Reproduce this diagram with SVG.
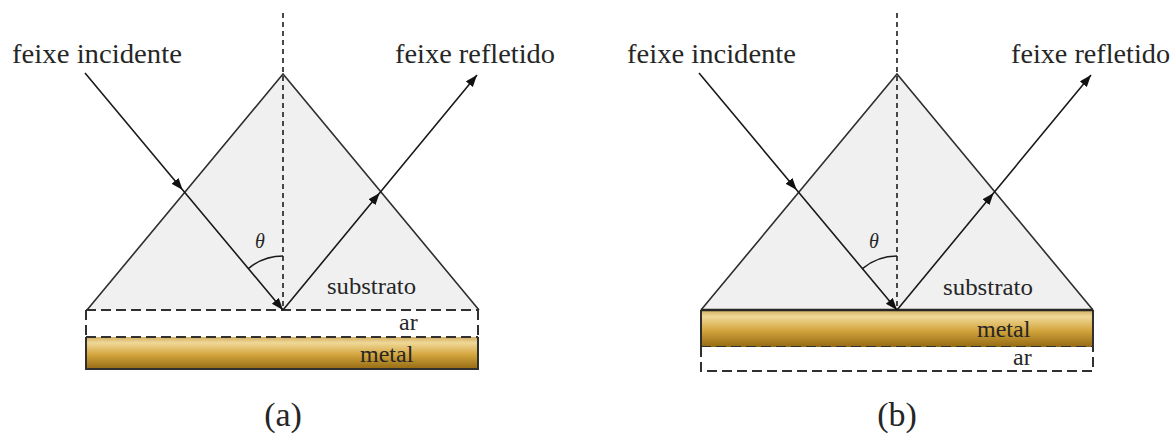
<svg xmlns="http://www.w3.org/2000/svg" width="1173" height="434" viewBox="0 0 1173 434">
  <style>
    text { font-family: "Liberation Serif", Tinos, "Noto Serif", "DejaVu Serif", "Times New Roman", Times, "Nimbus Roman", "FreeSerif", serif; fill: #262626; }
    .lbl { font-size: 28px; }
    .sm { font-size: 24px; }
    .cap { font-size: 34px; text-anchor: middle; }
    .th { font-size: 20px; font-style: italic; text-anchor: middle; }
    .prism { fill: #f0f0f0; stroke: none; }
    .edge { fill: none; stroke: #2e2e2e; stroke-width: 1.6; stroke-linejoin: miter; }
    .axis { fill: none; stroke: #2a2a2a; stroke-width: 1.7; stroke-dasharray: 5 4; }
    .dash { fill: none; stroke: #303030; stroke-width: 2; stroke-dasharray: 10 5; }
    .solid { fill: none; stroke: #303030; stroke-width: 2; }
    .thick { fill: none; stroke: #262626; stroke-width: 2.6; }
    .ray { fill: none; stroke: #1a1a1a; stroke-width: 1.6; marker-mid: url(#arrow); marker-end: url(#arrow); }
    .arc { fill: none; stroke: #1a1a1a; stroke-width: 1.5; }
  </style>
  <defs>
    <marker id="arrow" markerUnits="userSpaceOnUse" markerWidth="13" markerHeight="10" refX="12" refY="4.5" orient="auto">
      <path d="M0,0 L12,4.5 L0,9 Z" fill="#111"/>
    </marker>
    <linearGradient id="gold" x1="0" y1="0" x2="0" y2="1">
      <stop offset="0" stop-color="#d3ad5e"/>
      <stop offset="0.18" stop-color="#efd898"/>
      <stop offset="0.55" stop-color="#d4a63e"/>
      <stop offset="1" stop-color="#946a14"/>
    </linearGradient>
  </defs>

  <!-- Panel (a) -->
  <g id="prism-a">
    <polygon class="prism" points="283,74 87,310 479,310"/>
    <polyline class="edge" points="87,310 283,74 479,310"/>
  </g>
  <g id="air-a">
    <rect x="86" y="310" width="392" height="27" fill="#ffffff"/>
    <path class="dash" d="M86,310 H478 M86,310 V337 M478,310 V337"/>
    <text class="sm" x="399" y="330">ar</text>
  </g>
  <g id="metal-a">
    <rect x="86" y="337" width="392" height="32" fill="url(#gold)"/>
    <path class="solid" d="M86,337 V369 H478 V337"/>
    <path class="dash" d="M86,337 H478"/>
    <text class="sm" x="360" y="362">metal</text>
  </g>
  <g id="labels-a">
    <text class="lbl" x="12" y="63" textLength="170" lengthAdjust="spacingAndGlyphs">feixe incidente</text>
    <text class="lbl" x="395" y="63" textLength="160" lengthAdjust="spacingAndGlyphs">feixe refletido</text>
    <text class="sm" x="327" y="294" textLength="89" lengthAdjust="spacingAndGlyphs">substrato</text>
    <text class="th" x="260" y="248">θ</text>
    <text class="cap" x="283" y="426">(a)</text>
  </g>

  <!-- Panel (b) -->
  <g id="prism-b">
    <polygon class="prism" points="897,74 701,310 1093,310"/>
    <polyline class="edge" points="701,310 897,74 1093,310"/>
  </g>
  <g id="metal-b">
    <rect x="701" y="310" width="392" height="37" fill="url(#gold)"/>
    <path class="solid" d="M701,310 V347 M1093,310 V347"/>
    <path class="thick" d="M701,310 H1093"/>
    <path class="dash" d="M701,347 H1093"/>
    <text class="sm" x="977" y="337">metal</text>
  </g>
  <g id="air-b">
    <rect x="701" y="347" width="392" height="24" fill="#ffffff"/>
    <path class="dash" d="M701,347 V371 H1093 V347"/>
    <text class="sm" x="1013" y="365">ar</text>
  </g>
  <g id="labels-b">
    <text class="lbl" x="627" y="63" textLength="169" lengthAdjust="spacingAndGlyphs">feixe incidente</text>
    <text class="lbl" x="1011" y="63" textLength="159" lengthAdjust="spacingAndGlyphs">feixe refletido</text>
    <text class="sm" x="943" y="295" textLength="90" lengthAdjust="spacingAndGlyphs">substrato</text>
    <text class="th" x="874" y="248">θ</text>
    <text class="cap" x="897" y="426">(b)</text>
  </g>

  <!-- Connectors -->
  <g id="connectors">
    <line class="axis" x1="283" y1="13" x2="283" y2="310"/>
    <polyline class="ray" points="85,73 182.7,190 283,310"/>
    <polyline class="ray" points="283,310 379.6,193 477,75"/>
    <path class="arc" d="M248.4,268.6 A54,54 0 0 1 283,256"/>

    <line class="axis" x1="897" y1="13" x2="897" y2="310"/>
    <polyline class="ray" points="699,73 796.7,190 897,310"/>
    <polyline class="ray" points="897,310 993.6,193 1091,75"/>
    <path class="arc" d="M862.4,268.6 A54,54 0 0 1 897,256"/>
  </g>
</svg>
